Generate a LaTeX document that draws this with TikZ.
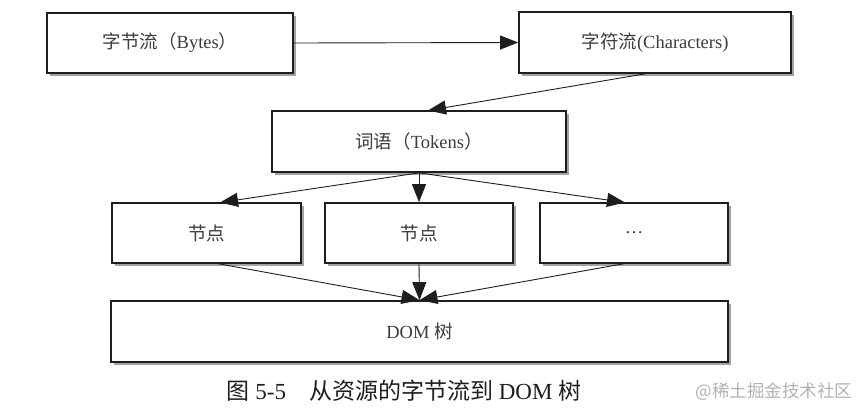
\documentclass[tikz,border=0pt]{standalone}
\usepackage{fontspec}
\setmainfont{Liberation Serif}
\newfontfamily\cjk{Noto Sans CJK SC}
\usetikzlibrary{arrows.meta,shadows}
\definecolor{ink}{RGB}{30,30,30}
\definecolor{txt}{RGB}{60,60,60}
\begin{document}
\begin{tikzpicture}[x=1pt,y=-1pt,
  box/.style={draw=ink,line width=1.7pt,fill=white,inner sep=0pt,
    drop shadow={shadow xshift=3pt,shadow yshift=-3pt,fill=black!45,opacity=0.8},
    text=txt,font=\fontsize{18.5}{20}\selectfont},
  conn/.style={draw=ink,line width=0.9pt,-{Triangle[length=18pt,width=14pt]}}]
\useasboundingbox (0,0) rectangle (861,416);
\node[box,minimum width=246pt,minimum height=60pt] (bytes) at (170,43) {{\cjk 字节流（}Bytes{\cjk ）}};
\node[box,minimum width=272pt,minimum height=61pt] (chars) at (655,42.5) {{\cjk 字符流}(Characters)};
\node[box,minimum width=294pt,minimum height=61pt] (tokens) at (419,141.5) {{\cjk 词语（}Tokens{\cjk ）}};
\node[box,minimum width=189pt,minimum height=60pt] (n1) at (206.5,233) {\cjk 节点};
\node[box,minimum width=188pt,minimum height=60pt] (n2) at (419,233) {\cjk 节点};
\node[box,minimum width=188pt,minimum height=60pt] (n3) at (634,233) {\ldots};
\node[box,minimum width=617pt,minimum height=61pt] (dom) at (419.5,331.5) {DOM {\cjk 树}};
\coordinate (c1) at (220,202.5);
\coordinate (c3) at (625,202.5);
\coordinate (d1) at (217,263.5);
\coordinate (d3) at (625,263.5);
\coordinate (ct) at (647,73.5);
\coordinate (tt) at (428,110.5);
\draw[conn] (bytes.east) -- (chars.west);
\draw[conn] (ct) -- (tt);
\draw[conn] (tokens.south) -- (c1);
\draw[conn] (tokens.south) -- (n2.north);
\draw[conn] (tokens.south) -- (c3);
\draw[conn] (d1) -- (dom.north);
\draw[conn] (n2.south) -- (dom.north);
\draw[conn] (d3) -- (dom.north);
\node[text=ink,font=\fontsize{23}{26}\selectfont] (cap) at (404,391) {{\cjk 图} 5-5\quad{\cjk 从资源的字节流到} DOM {\cjk 树}};
\node[text=black!30,font=\cjk\fontsize{17.5}{20}\selectfont] (wm) at (774,392) {@稀土掘金技术社区};
\end{tikzpicture}
\end{document}
